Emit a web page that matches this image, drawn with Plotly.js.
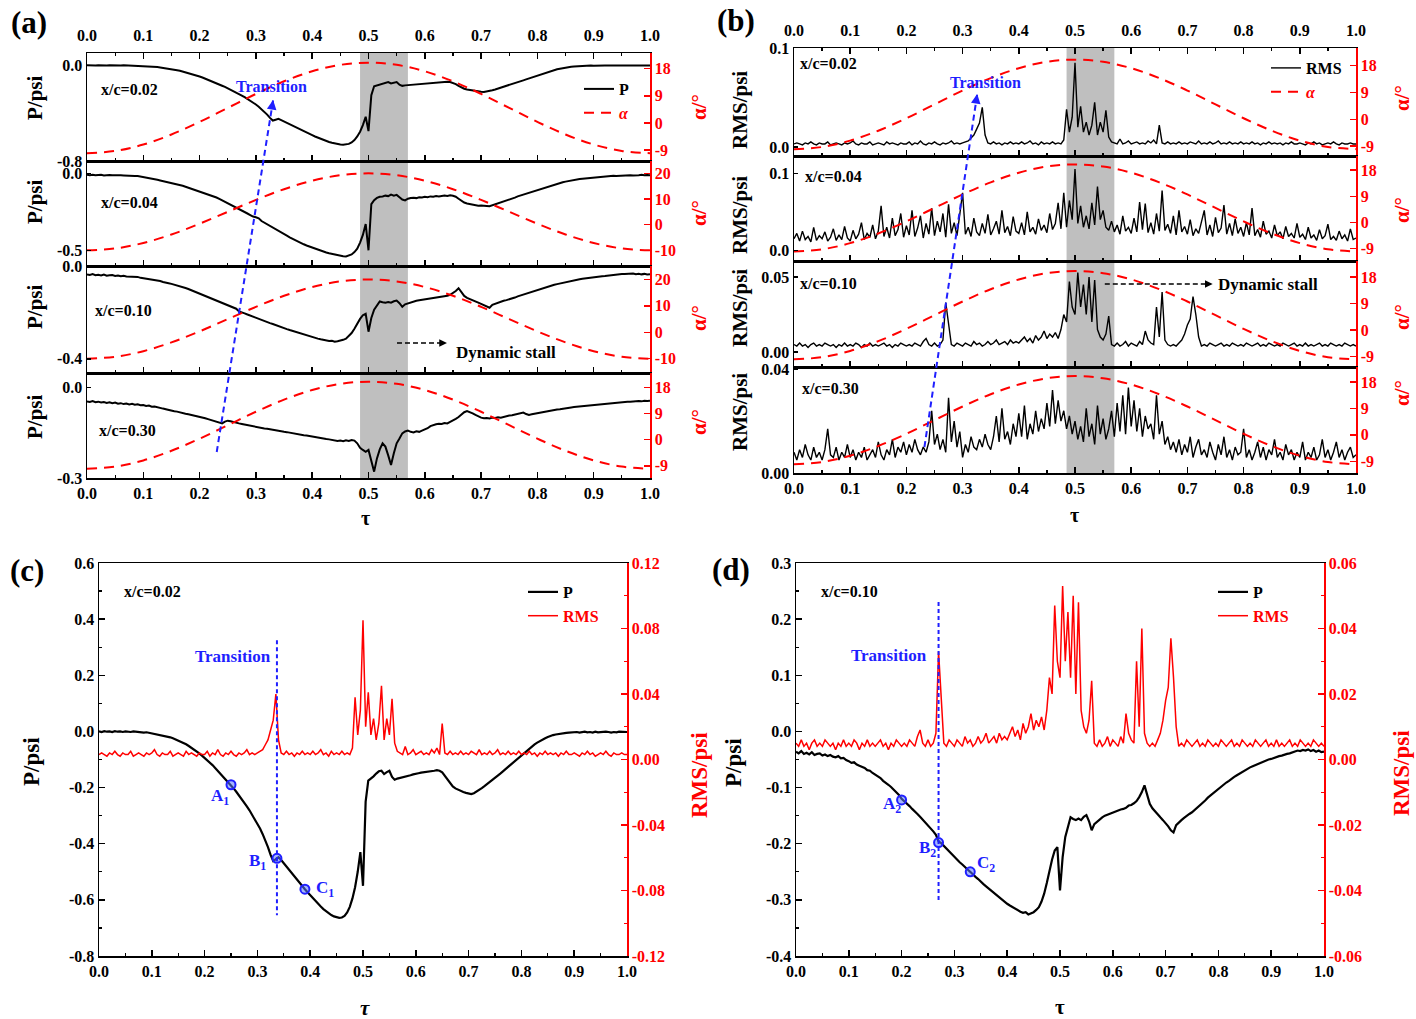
<!DOCTYPE html>
<html>
<head>
<meta charset="utf-8">
<script src="https://cdn.plot.ly/plotly-3.0.1.min.js"></script>
<style>html,body{margin:0;padding:0;background:#fff}</style>
</head>
<body>
<div id="chart" style="width:1416px;height:1019px"></div>
<script>
// sample times for every pressure / rms record (step 0.005)
const tau = Array.from({ length: 201 }, (_, i) => +(i * 0.005).toFixed(3));

// pressure, x/c = 0.02
const P_02 = [
  0.000, -0.002, 0.001, -0.001, 0.000, -0.002, 0.001, -0.001, 0.000, -0.002, 0.000, -0.001, -0.002, 0.000, -0.001, -0.003, -0.002, -0.004, -0.003, -0.005,
  -0.006, -0.007, -0.009, -0.011, -0.013, -0.015, -0.018, -0.021, -0.024, -0.028, -0.032, -0.036, -0.041, -0.046, -0.052, -0.058, -0.064, -0.071, -0.078, -0.086,
  -0.094, -0.102, -0.111, -0.120, -0.130, -0.140, -0.150, -0.160, -0.171, -0.181, -0.192, -0.203, -0.215, -0.227, -0.240, -0.253, -0.267, -0.281, -0.296, -0.312,
  -0.328, -0.346, -0.366, -0.388, -0.412, -0.440, -0.462, -0.455, -0.448, -0.458, -0.470, -0.480, -0.490, -0.502, -0.514, -0.526, -0.538, -0.550, -0.562, -0.573,
  -0.584, -0.595, -0.605, -0.615, -0.624, -0.633, -0.641, -0.648, -0.654, -0.659, -0.662, -0.664, -0.663, -0.657, -0.645, -0.625, -0.595, -0.555, -0.500, -0.430,
  -0.550, -0.250, -0.175, -0.168, -0.160, -0.150, -0.142, -0.140, -0.152, -0.145, -0.140, -0.162, -0.172, -0.168, -0.166, -0.163, -0.160, -0.158, -0.156, -0.153,
  -0.150, -0.149, -0.147, -0.146, -0.144, -0.143, -0.141, -0.140, -0.138, -0.140, -0.146, -0.158, -0.172, -0.186, -0.196, -0.203, -0.208, -0.212, -0.216, -0.219,
  -0.222, -0.223, -0.220, -0.215, -0.209, -0.202, -0.195, -0.188, -0.181, -0.174, -0.166, -0.158, -0.150, -0.142, -0.134, -0.126, -0.118, -0.110, -0.101, -0.093,
  -0.084, -0.076, -0.068, -0.060, -0.053, -0.046, -0.040, -0.034, -0.029, -0.024, -0.020, -0.016, -0.013, -0.011, -0.009, -0.007, -0.006, -0.005, -0.004, -0.003,
  -0.004, -0.002, -0.004, -0.003, -0.001, -0.003, -0.002, -0.004, -0.001, -0.003, -0.002, -0.003, -0.001, -0.002, -0.004, -0.002, -0.003, -0.001, -0.002, -0.003,
  -0.002
];

// pressure, x/c = 0.04
const P_04 = [
  -0.010, -0.012, -0.009, -0.013, -0.011, -0.010, -0.014, -0.012, -0.011, -0.013, -0.012, -0.015, -0.013, -0.014, -0.016, -0.014, -0.017, -0.018, -0.017, -0.020,
  -0.022, -0.025, -0.028, -0.032, -0.036, -0.042, -0.046, -0.050, -0.054, -0.059, -0.063, -0.068, -0.072, -0.077, -0.081, -0.087, -0.093, -0.099, -0.105, -0.111,
  -0.117, -0.123, -0.129, -0.135, -0.141, -0.149, -0.157, -0.166, -0.175, -0.184, -0.193, -0.202, -0.211, -0.221, -0.231, -0.241, -0.251, -0.261, -0.271, -0.281,
  -0.285, -0.292, -0.310, -0.320, -0.331, -0.342, -0.352, -0.363, -0.373, -0.384, -0.395, -0.405, -0.416, -0.426, -0.435, -0.444, -0.452, -0.461, -0.469, -0.476,
  -0.484, -0.491, -0.497, -0.503, -0.509, -0.514, -0.519, -0.524, -0.529, -0.533, -0.536, -0.539, -0.540, -0.535, -0.527, -0.512, -0.490, -0.450, -0.400, -0.330,
  -0.500, -0.200, -0.175, -0.160, -0.152, -0.150, -0.145, -0.148, -0.138, -0.145, -0.140, -0.155, -0.170, -0.176, -0.165, -0.160, -0.158, -0.161, -0.155, -0.157,
  -0.153, -0.155, -0.150, -0.152, -0.148, -0.150, -0.146, -0.144, -0.147, -0.142, -0.146, -0.152, -0.165, -0.180, -0.190, -0.196, -0.200, -0.205, -0.207, -0.210,
  -0.209, -0.213, -0.212, -0.214, -0.208, -0.203, -0.197, -0.190, -0.184, -0.176, -0.170, -0.164, -0.158, -0.150, -0.144, -0.138, -0.132, -0.126, -0.120, -0.114,
  -0.108, -0.101, -0.096, -0.090, -0.084, -0.078, -0.072, -0.067, -0.062, -0.058, -0.054, -0.050, -0.047, -0.043, -0.040, -0.037, -0.035, -0.033, -0.030, -0.028,
  -0.026, -0.024, -0.023, -0.021, -0.020, -0.019, -0.018, -0.016, -0.017, -0.015, -0.014, -0.016, -0.013, -0.012, -0.014, -0.011, -0.012, -0.010, -0.013, -0.011,
  -0.012
];

// pressure, x/c = 0.10
const P_10 = [
  -0.036, -0.039, -0.035, -0.040, -0.038, -0.041, -0.037, -0.042, -0.040, -0.039, -0.043, -0.041, -0.044, -0.042, -0.045, -0.046, -0.044, -0.048, -0.047, -0.051,
  -0.053, -0.056, -0.055, -0.059, -0.061, -0.063, -0.065, -0.069, -0.070, -0.074, -0.077, -0.080, -0.083, -0.088, -0.091, -0.095, -0.099, -0.104, -0.108, -0.113,
  -0.120, -0.124, -0.128, -0.133, -0.138, -0.142, -0.147, -0.152, -0.157, -0.162, -0.168, -0.173, -0.178, -0.184, -0.196, -0.199, -0.204, -0.209, -0.214, -0.219,
  -0.224, -0.228, -0.233, -0.237, -0.242, -0.246, -0.250, -0.255, -0.259, -0.263, -0.268, -0.272, -0.276, -0.280, -0.284, -0.288, -0.292, -0.296, -0.300, -0.303,
  -0.307, -0.310, -0.313, -0.316, -0.319, -0.321, -0.323, -0.322, -0.326, -0.324, -0.322, -0.318, -0.313, -0.303, -0.289, -0.270, -0.248, -0.228, -0.212, -0.206,
  -0.283, -0.224, -0.188, -0.170, -0.153, -0.156, -0.158, -0.155, -0.158, -0.152, -0.149, -0.160, -0.176, -0.165, -0.161, -0.156, -0.153, -0.150, -0.148, -0.146,
  -0.144, -0.143, -0.141, -0.139, -0.138, -0.136, -0.132, -0.131, -0.128, -0.124, -0.117, -0.108, -0.096, -0.112, -0.129, -0.137, -0.143, -0.147, -0.153, -0.158,
  -0.163, -0.169, -0.176, -0.180, -0.167, -0.162, -0.158, -0.154, -0.150, -0.147, -0.144, -0.140, -0.136, -0.131, -0.127, -0.123, -0.118, -0.114, -0.110, -0.106,
  -0.102, -0.098, -0.095, -0.091, -0.088, -0.084, -0.081, -0.078, -0.075, -0.072, -0.069, -0.067, -0.064, -0.062, -0.060, -0.057, -0.055, -0.053, -0.051, -0.050,
  -0.049, -0.047, -0.046, -0.044, -0.043, -0.041, -0.040, -0.039, -0.037, -0.036, -0.034, -0.035, -0.033, -0.034, -0.032, -0.035, -0.033, -0.036, -0.034, -0.037,
  -0.036
];

// pressure, x/c = 0.30
const P_30 = [
  -0.046, -0.048, -0.045, -0.049, -0.047, -0.050, -0.048, -0.051, -0.049, -0.052, -0.050, -0.054, -0.052, -0.055, -0.053, -0.056, -0.054, -0.057, -0.056, -0.059,
  -0.058, -0.061, -0.060, -0.064, -0.063, -0.066, -0.068, -0.070, -0.072, -0.075, -0.076, -0.079, -0.080, -0.083, -0.085, -0.087, -0.089, -0.091, -0.093, -0.095,
  -0.096, -0.099, -0.102, -0.105, -0.108, -0.111, -0.114, -0.117, -0.119, -0.113, -0.110, -0.112, -0.115, -0.117, -0.119, -0.121, -0.123, -0.125, -0.128, -0.130,
  -0.131, -0.133, -0.134, -0.136, -0.137, -0.139, -0.140, -0.142, -0.143, -0.145, -0.147, -0.148, -0.150, -0.151, -0.153, -0.155, -0.156, -0.158, -0.159, -0.161,
  -0.163, -0.164, -0.166, -0.168, -0.169, -0.171, -0.172, -0.174, -0.176, -0.177, -0.176, -0.178, -0.175, -0.177, -0.174, -0.176, -0.185, -0.200, -0.207, -0.213,
  -0.207, -0.240, -0.279, -0.235, -0.205, -0.185, -0.196, -0.225, -0.257, -0.218, -0.185, -0.169, -0.152, -0.146, -0.143, -0.147, -0.149, -0.145, -0.147, -0.143,
  -0.140, -0.135, -0.128, -0.124, -0.122, -0.120, -0.121, -0.118, -0.119, -0.114, -0.110, -0.104, -0.098, -0.090, -0.082, -0.078, -0.081, -0.086, -0.091, -0.096,
  -0.100, -0.102, -0.101, -0.103, -0.100, -0.101, -0.099, -0.100, -0.097, -0.096, -0.093, -0.092, -0.090, -0.088, -0.085, -0.083, -0.088, -0.091, -0.089, -0.087,
  -0.085, -0.083, -0.082, -0.080, -0.078, -0.076, -0.075, -0.073, -0.072, -0.070, -0.069, -0.068, -0.066, -0.065, -0.064, -0.062, -0.061, -0.060, -0.059, -0.058,
  -0.057, -0.056, -0.055, -0.054, -0.053, -0.052, -0.052, -0.051, -0.050, -0.049, -0.049, -0.048, -0.047, -0.047, -0.046, -0.046, -0.045, -0.046, -0.044, -0.045,
  -0.044
];

// pressure fluctuation rms, x/c = 0.02
const RMS_02 = [
  0.003, 0.004, 0.003, 0.002, 0.004, 0.003, 0.005, 0.003, 0.002, 0.004, 0.003, 0.003, 0.005, 0.002, 0.003, 0.004, 0.003, 0.002, 0.004, 0.003,
  0.004, 0.006, 0.003, 0.002, 0.004, 0.003, 0.003, 0.005, 0.002, 0.003, 0.004, 0.003, 0.002, 0.005, 0.003, 0.004, 0.003, 0.002, 0.004, 0.003,
  0.003, 0.005, 0.002, 0.004, 0.003, 0.006, 0.003, 0.002, 0.004, 0.003, 0.005, 0.003, 0.002, 0.004, 0.003, 0.004, 0.006, 0.003, 0.004, 0.003,
  0.004, 0.005, 0.006, 0.009, 0.012, 0.018, 0.024, 0.040, 0.012, 0.004, 0.003, 0.005, 0.003, 0.004, 0.002, 0.004, 0.003, 0.005, 0.003, 0.004,
  0.003, 0.005, 0.003, 0.004, 0.006, 0.003, 0.004, 0.002, 0.005, 0.003, 0.004, 0.003, 0.005, 0.003, 0.004, 0.003, 0.007, 0.038, 0.015, 0.030,
  0.085, 0.020, 0.041, 0.015, 0.025, 0.012, 0.022, 0.045, 0.012, 0.025, 0.015, 0.037, 0.010, 0.005, 0.004, 0.003, 0.008, 0.003, 0.004, 0.006,
  0.003, 0.004, 0.005, 0.003, 0.004, 0.003, 0.006, 0.004, 0.007, 0.003, 0.022, 0.004, 0.003, 0.005, 0.003, 0.004, 0.003, 0.005, 0.003, 0.004,
  0.003, 0.005, 0.004, 0.003, 0.006, 0.003, 0.004, 0.003, 0.005, 0.003, 0.004, 0.006, 0.003, 0.004, 0.003, 0.005, 0.003, 0.004, 0.003, 0.005,
  0.003, 0.004, 0.003, 0.005, 0.003, 0.004, 0.002, 0.004, 0.003, 0.005, 0.003, 0.004, 0.003, 0.004, 0.002, 0.004, 0.003, 0.005, 0.003, 0.003,
  0.004, 0.003, 0.002, 0.004, 0.003, 0.005, 0.003, 0.004, 0.002, 0.003, 0.004, 0.003, 0.005, 0.003, 0.002, 0.004, 0.003, 0.003, 0.004, 0.003,
  0.003
];

// pressure fluctuation rms, x/c = 0.04
const RMS_04 = [
  0.015, 0.022, 0.012, 0.025, 0.014, 0.018, 0.011, 0.030, 0.013, 0.019, 0.015, 0.024, 0.012, 0.017, 0.028, 0.013, 0.020, 0.014, 0.031, 0.016,
  0.012, 0.026, 0.015, 0.021, 0.036, 0.014, 0.022, 0.017, 0.033, 0.015, 0.025, 0.058, 0.018, 0.030, 0.016, 0.042, 0.019, 0.027, 0.048, 0.017,
  0.032, 0.020, 0.052, 0.018, 0.029, 0.045, 0.016, 0.035, 0.021, 0.055, 0.019, 0.038, 0.024, 0.048, 0.017, 0.060, 0.022, 0.036, 0.019, 0.050,
  0.075, 0.021, 0.030, 0.018, 0.042, 0.024, 0.019, 0.035, 0.022, 0.047, 0.020, 0.028, 0.038, 0.021, 0.052, 0.023, 0.031, 0.019, 0.044, 0.025,
  0.022, 0.036, 0.020, 0.050, 0.024, 0.030, 0.021, 0.041, 0.026, 0.033, 0.023, 0.048, 0.027, 0.035, 0.062, 0.028, 0.075, 0.030, 0.065, 0.040,
  0.106, 0.035, 0.058, 0.030, 0.045, 0.028, 0.062, 0.033, 0.083, 0.040, 0.052, 0.030, 0.026, 0.038, 0.024, 0.033, 0.021, 0.045, 0.025, 0.030,
  0.022, 0.042, 0.024, 0.063, 0.027, 0.061, 0.023, 0.036, 0.021, 0.048, 0.025, 0.078, 0.026, 0.034, 0.022, 0.045, 0.020, 0.052, 0.024, 0.031,
  0.021, 0.040, 0.019, 0.028, 0.022, 0.037, 0.052, 0.020, 0.033, 0.018, 0.043, 0.023, 0.029, 0.059, 0.021, 0.035, 0.019, 0.041, 0.022, 0.030,
  0.018, 0.036, 0.020, 0.055, 0.019, 0.027, 0.017, 0.038, 0.021, 0.025, 0.016, 0.033, 0.019, 0.024, 0.015, 0.031, 0.018, 0.022, 0.016, 0.035,
  0.017, 0.021, 0.014, 0.030, 0.016, 0.020, 0.013, 0.027, 0.015, 0.019, 0.034, 0.014, 0.018, 0.013, 0.025, 0.015, 0.020, 0.012, 0.028, 0.014,
  0.016
];

// pressure fluctuation rms, x/c = 0.10
const RMS_10 = [
  0.005, 0.004, 0.006, 0.004, 0.005, 0.003, 0.005, 0.006, 0.004, 0.005, 0.004, 0.006, 0.005, 0.004, 0.005, 0.003, 0.005, 0.004, 0.006, 0.004,
  0.005, 0.004, 0.006, 0.005, 0.003, 0.005, 0.004, 0.006, 0.004, 0.005, 0.004, 0.005, 0.006, 0.004, 0.005, 0.003, 0.005, 0.004, 0.006, 0.005,
  0.004, 0.005, 0.004, 0.006, 0.005, 0.004, 0.007, 0.009, 0.005, 0.004, 0.006, 0.004, 0.005, 0.008, 0.033, 0.020, 0.005, 0.004, 0.006, 0.005,
  0.004, 0.006, 0.005, 0.004, 0.007, 0.005, 0.006, 0.004, 0.005, 0.007, 0.005, 0.006, 0.008, 0.005, 0.006, 0.007, 0.005, 0.008, 0.006, 0.007,
  0.006, 0.008, 0.010, 0.007, 0.009, 0.006, 0.011, 0.008, 0.010, 0.014, 0.009, 0.012, 0.010, 0.013, 0.009, 0.015, 0.025, 0.020, 0.047, 0.030,
  0.025, 0.053, 0.030, 0.045, 0.025, 0.050, 0.020, 0.048, 0.015, 0.010, 0.008, 0.012, 0.024, 0.005, 0.004, 0.006, 0.004, 0.005, 0.007, 0.004,
  0.006, 0.005, 0.004, 0.007, 0.005, 0.014, 0.008, 0.006, 0.005, 0.030, 0.010, 0.040, 0.008, 0.005, 0.004, 0.005, 0.004, 0.006, 0.008, 0.012,
  0.018, 0.022, 0.037, 0.025, 0.010, 0.004, 0.005, 0.004, 0.006, 0.005, 0.004, 0.005, 0.006, 0.004, 0.005, 0.004, 0.006, 0.005, 0.004, 0.005,
  0.004, 0.006, 0.005, 0.004, 0.005, 0.006, 0.004, 0.005, 0.004, 0.006, 0.005, 0.004, 0.005, 0.004, 0.006, 0.005, 0.004, 0.005, 0.006, 0.004,
  0.005, 0.004, 0.006, 0.004, 0.005, 0.004, 0.005, 0.006, 0.004, 0.005, 0.004, 0.006, 0.005, 0.004, 0.005, 0.004, 0.006, 0.005, 0.004, 0.005,
  0.004
];

// pressure fluctuation rms, x/c = 0.30
const RMS_30 = [
  0.008, 0.005, 0.009, 0.006, 0.011, 0.007, 0.005, 0.010, 0.006, 0.008, 0.005, 0.009, 0.017, 0.007, 0.006, 0.010, 0.005, 0.008, 0.006, 0.011,
  0.006, 0.009, 0.005, 0.008, 0.006, 0.010, 0.005, 0.007, 0.009, 0.006, 0.012, 0.007, 0.005, 0.009, 0.007, 0.013, 0.006, 0.010, 0.008, 0.012,
  0.007, 0.011, 0.008, 0.013, 0.009, 0.007, 0.010, 0.008, 0.012, 0.024, 0.011, 0.015, 0.009, 0.013, 0.008, 0.029, 0.012, 0.020, 0.010, 0.016,
  0.006, 0.011, 0.008, 0.014, 0.010, 0.009, 0.013, 0.010, 0.015, 0.011, 0.009, 0.014, 0.022, 0.012, 0.025, 0.013, 0.016, 0.011, 0.019, 0.014,
  0.023, 0.014, 0.026, 0.013, 0.019, 0.015, 0.024, 0.016, 0.021, 0.017, 0.027, 0.018, 0.032, 0.019, 0.028, 0.020, 0.024, 0.017, 0.022, 0.015,
  0.020, 0.013, 0.018, 0.012, 0.025, 0.014, 0.019, 0.011, 0.026, 0.015, 0.021, 0.013, 0.017, 0.024, 0.014, 0.027, 0.016, 0.030, 0.015, 0.033,
  0.018, 0.028, 0.016, 0.025, 0.014, 0.022, 0.017, 0.019, 0.013, 0.030, 0.015, 0.020, 0.011, 0.014, 0.009, 0.012, 0.008, 0.013, 0.007, 0.011,
  0.008, 0.014, 0.006, 0.010, 0.013, 0.007, 0.009, 0.006, 0.012, 0.008, 0.005, 0.011, 0.007, 0.014, 0.006, 0.009, 0.005, 0.010, 0.007, 0.008,
  0.017, 0.006, 0.009, 0.005, 0.008, 0.012, 0.006, 0.010, 0.005, 0.009, 0.007, 0.013, 0.006, 0.008, 0.005, 0.011, 0.007, 0.009, 0.005, 0.008,
  0.006, 0.012, 0.005, 0.008, 0.006, 0.010, 0.005, 0.007, 0.013, 0.006, 0.009, 0.005, 0.008, 0.012, 0.006, 0.009, 0.005, 0.008, 0.010, 0.006,
  0.007
];

// angle of attack over one cycle
const alphaTau = [0, 0.05, 0.1, 0.15, 0.2, 0.25, 0.3, 0.35, 0.4, 0.45, 0.5, 0.55, 0.6, 0.65, 0.7, 0.75, 0.8, 0.85, 0.9, 0.95, 1.0];
const alphaDeg = [-10, -9.27, -7.14, -3.82, 0.36, 5, 9.64, 13.82, 17.14, 19.27, 20, 19.27, 17.14, 13.82, 9.64, 5, 0.36, -3.82, -7.14, -9.27, -10];

// marked states A, B, C in (c) and (d)
const markC_tau = [0.25, 0.337, 0.39];
const markC_p = [-0.19, -0.452, -0.562];
const markD_tau = [0.2, 0.27, 0.33];
const markD_p = [-0.122, -0.198, -0.25];

// shaded stall window and transition instants
const stallWindow = [0.485, 0.57];
const transitionC = 0.337;
const transitionD = 0.27;

// tick labels
const tauTicks = [0, 0.1, 0.2, 0.3, 0.4, 0.5, 0.6, 0.7, 0.8, 0.9, 1.0];
const alphaTicks18 = [-9, 0, 9, 18];
const alphaTicks20 = [-10, 0, 10, 20];
const cPTicks = [-0.8, -0.6, -0.4, -0.2, 0, 0.2, 0.4, 0.6];
const cRmsTicks = [-0.12, -0.08, -0.04, 0, 0.04, 0.08, 0.12];
const dPTicks = [-0.4, -0.3, -0.2, -0.1, 0, 0.1, 0.2, 0.3];
const dRmsTicks = [-0.06, -0.04, -0.02, 0, 0.02, 0.04, 0.06];

const W = 1416, H = 1019;
const px = v => v / W;
const py = v => 1 - v / H;
const FONT = 'Liberation Serif, "Times New Roman", serif';
const RED = '#ff0000';
const BLUE = '#1f1fff';
const sfx = n => (n === 1 ? '' : String(n));

const data = [];
const annotations = [];
const shapes = [];
const layout = {
  width: W, height: H, autosize: false,
  margin: { l: 0, r: 0, t: 0, b: 0 },
  paper_bgcolor: '#fff', plot_bgcolor: 'rgba(0,0,0,0)',
  font: { family: FONT, size: 16, color: '#000', weight: 'bold' },
  showlegend: true,
  annotations, shapes
};

function tickFont(color) {
  return { family: FONT, size: 16, color, weight: 'bold' };
}

function addXAxis(n, xs, anchorY, extra) {
  layout['xaxis' + sfx(n)] = Object.assign({
    domain: [px(xs[0]), px(xs[1])],
    anchor: 'y' + sfx(anchorY),
    range: [0, 1],
    tickmode: 'array', tickvals: tauTicks, ticktext: tauTicks.map(v => v.toFixed(1)),
    ticks: 'inside', ticklen: 6, tickwidth: 1.5, tickcolor: '#000',
    minor: { ticks: 'inside', ticklen: 3, tickwidth: 1.2, tickcolor: '#000', tickmode: 'linear', tick0: 0, dtick: 0.05, showgrid: false },
    showline: true, linecolor: '#000', linewidth: 1.5, mirror: true,
    showgrid: false, zeroline: false, fixedrange: true,
    tickfont: tickFont('#000')
  }, extra);
}

function addYAxis(n, ys, anchorX, range, vals, digits, color, extra) {
  layout['yaxis' + sfx(n)] = Object.assign({
    domain: [py(ys[1]), py(ys[0])],
    anchor: 'x' + sfx(anchorX),
    range,
    tickmode: 'array', tickvals: vals, ticktext: vals.map(v => v.toFixed(digits)),
    ticks: 'inside', ticklen: 6, tickwidth: 1.5, tickcolor: color,
    showline: true, linecolor: color, linewidth: 1.5,
    showgrid: false, zeroline: false, fixedrange: true,
    tickfont: tickFont(color)
  }, extra);
}

function text(str, x, y, opts) {
  annotations.push(Object.assign({
    text: str, x: px(x), y: py(y), xref: 'paper', yref: 'paper',
    showarrow: false, xanchor: 'center', yanchor: 'middle',
    font: { family: FONT, size: 16, color: '#000', weight: 'bold' }
  }, opts));
}

function vtitle(str, x, y, color, size) {
  text(str, x, y, { textangle: -90, font: { family: FONT, size: size || 21, color, weight: 'bold' } });
}

function legendAt(x, y) {
  return {
    x: px(x), y: py(y), xanchor: 'left', yanchor: 'top',
    bgcolor: 'rgba(0,0,0,0)', borderwidth: 0,
    font: { family: FONT, size: 16, color: '#000', weight: 'bold' },
    traceorder: 'grouped', tracegroupgap: 0, itemwidth: 30
  };
}

const alphaLine = { color: RED, width: 2, dash: '10px,7px', shape: 'spline', smoothing: 1 };
const alphaName = '<span style="color:red;font-style:italic">α</span>';

// ---------- (a) pressure strips ----------
const aX = [87, 650];
const aRows = [
  { y: [53, 161], p: P_02, pr: [-0.8, 0.1025], pt: [-0.8, 0], ar: [-12.6, 23.2], at: alphaTicks18, label: 'x/c=0.02', lab: [99, 89], pt1: 98, at1: 107 },
  { y: [161, 266], p: P_04, pr: [-0.602, 0.08], pt: [-0.5, 0], ar: [-16.1, 24.8], at: alphaTicks20, label: 'x/c=0.04', lab: [99, 203], pt1: 202, at1: 213 },
  { y: [266, 373], p: P_10, pr: [-0.461, 0.0], pt: [-0.4, 0], ar: [-15.4, 25.1], at: alphaTicks20, label: 'x/c=0.10', lab: [93, 310], pt1: 307, at1: 318 },
  { y: [373, 478], p: P_30, pr: [-0.3, 0.048], pt: [-0.3, 0], ar: [-13.2, 23.0], at: alphaTicks18, label: 'x/c=0.30', lab: [97, 430], pt1: 417, at1: 422 }
];

aRows.forEach((r, i) => {
  const xn = i + 1, yl = 2 * i + 1, yr = 2 * i + 2;
  const xExtra = i === 0 ? { side: 'top', mirror: 'ticks', ticklabelstandoff: 4 } : (i === 3 ? {} : { showticklabels: false });
  addXAxis(xn, aX, yl, xExtra);
  addYAxis(yl, r.y, xn, r.pr, r.pt, 1, '#000', { ticklen: 4 });
  addYAxis(yr, r.y, xn, r.ar, r.at, 0, RED, { side: 'right', overlaying: 'y' + sfx(yl) });
  data.push({
    x: tau, y: r.p, type: 'scatter', mode: 'lines', name: 'P',
    xaxis: 'x' + sfx(xn), yaxis: 'y' + sfx(yl),
    line: { color: '#000', width: 2 },
    showlegend: i === 0, legend: 'legend', legendgroup: 'aP', hoverinfo: 'skip'
  });
  data.push({
    x: alphaTau, y: alphaDeg, type: 'scatter', mode: 'lines', name: alphaName,
    xaxis: 'x' + sfx(xn), yaxis: 'y' + sfx(yr),
    line: alphaLine, showlegend: i === 0, legend: 'legend', legendgroup: 'aA', hoverinfo: 'skip'
  });
  text(r.label, r.lab[0], r.lab[1], { xanchor: 'left' });
  vtitle('P/psi', 35, r.pt1, '#000');
  vtitle('α/°', 699, r.at1, RED);
});

// ---------- (b) rms strips ----------
const bX = [794, 1356];
const bRows = [
  { y: [48, 156], r: RMS_02, rr: [-0.0092, 0.1], rt: [0, 0.1], d: 1, ar: [-12.3, 23.9], label: 'x/c=0.02', lab: [798, 63], t1: 110, at1: 98 },
  { y: [156, 261], r: RMS_04, rr: [-0.014, 0.123], rt: [0, 0.1], d: 1, ar: [-13.3, 22.9], label: 'x/c=0.04', lab: [803, 177], t1: 215, at1: 210 },
  { y: [261, 367], r: RMS_10, rr: [-0.01, 0.0607], rt: [0, 0.05], d: 2, ar: [-12.6, 23.4], label: 'x/c=0.10', lab: [798, 283], t1: 308, at1: 317 },
  { y: [367, 473], r: RMS_30, rr: [0, 0.0409], rt: [0, 0.04], d: 2, ar: [-13.0, 23.1], label: 'x/c=0.30', lab: [800, 388], t1: 412, at1: 393 }
];

bRows.forEach((r, i) => {
  const xn = i + 5, yl = 2 * (i + 4) + 1, yr = 2 * (i + 4) + 2;
  const xExtra = i === 0 ? { side: 'top', mirror: 'ticks', ticklabelstandoff: 4 } : (i === 3 ? {} : { showticklabels: false });
  addXAxis(xn, bX, yl, xExtra);
  addYAxis(yl, r.y, xn, r.rr, r.rt, r.d, '#000', { ticklen: 4 });
  addYAxis(yr, r.y, xn, r.ar, alphaTicks18, 0, RED, { side: 'right', overlaying: 'y' + sfx(yl) });
  data.push({
    x: tau, y: r.r, type: 'scatter', mode: 'lines', name: 'RMS',
    xaxis: 'x' + sfx(xn), yaxis: 'y' + sfx(yl),
    line: { color: '#000', width: 1.4 },
    showlegend: i === 0, legend: 'legend2', legendgroup: 'bR', hoverinfo: 'skip'
  });
  data.push({
    x: alphaTau, y: alphaDeg, type: 'scatter', mode: 'lines', name: alphaName,
    xaxis: 'x' + sfx(xn), yaxis: 'y' + sfx(yr),
    line: alphaLine, showlegend: i === 0, legend: 'legend2', legendgroup: 'bA', hoverinfo: 'skip'
  });
  text(r.label, r.lab[0], r.lab[1], { xanchor: 'left' });
  vtitle('RMS/psi', 740, r.t1, '#000');
  vtitle('α/°', 1402, r.at1, RED);
});

// shaded stall window across the strips
shapes.push({ type: 'rect', xref: 'x', yref: 'paper', x0: stallWindow[0], x1: stallWindow[1], y0: py(478), y1: py(53), fillcolor: '#bfbfbf', line: { width: 0 }, layer: 'below' });
shapes.push({ type: 'rect', xref: 'x5', yref: 'paper', x0: stallWindow[0], x1: stallWindow[1], y0: py(473), y1: py(48), fillcolor: '#bfbfbf', line: { width: 0 }, layer: 'below' });

// transition guide lines in (a) and (b)
shapes.push({ type: 'line', xref: 'x', yref: 'paper', x0: 0.2304, y0: py(452), x1: 0.3306, y1: py(100), line: { color: BLUE, width: 2, dash: '6px,4px' } });
shapes.push({ type: 'line', xref: 'x5', yref: 'paper', x0: 0.2321, y0: py(447), x1: 0.326, y1: py(94), line: { color: BLUE, width: 2, dash: '6px,4px' } });
annotations.push({ x: 0.3306, y: py(100), xref: 'x', yref: 'paper', text: ' ', showarrow: true, ax: -2, ay: 13, arrowhead: 2, arrowsize: 1.2, arrowwidth: 1.6, arrowcolor: BLUE });
annotations.push({ x: 0.326, y: py(94), xref: 'x5', yref: 'paper', text: ' ', showarrow: true, ax: -2, ay: 13, arrowhead: 2, arrowsize: 1.2, arrowwidth: 1.6, arrowcolor: BLUE });
text('Transition', 271, 86, { font: { family: FONT, size: 16, color: BLUE, weight: 'bold' } });
text('Transition', 985, 83, { font: { family: FONT, size: 16, color: BLUE, weight: 'bold' } });

// dynamic stall pointers
shapes.push({ type: 'line', xref: 'x', yref: 'paper', x0: 0.5506, x1: 0.632, y0: py(343), y1: py(343), line: { color: '#000', width: 1.5, dash: '5px,3px' } });
annotations.push({ x: 0.6394, y: py(343), xref: 'x', yref: 'paper', text: ' ', showarrow: true, ax: -9, ay: 0, arrowhead: 2, arrowsize: 1.1, arrowwidth: 1.4, arrowcolor: '#000' });
text('Dynamic stall', 454, 352, { xanchor: 'left', font: { family: FONT, size: 17, color: '#000', weight: 'bold' } });
shapes.push({ type: 'line', xref: 'x5', yref: 'paper', x0: 0.553, x1: 0.738, y0: py(284), y1: py(284), line: { color: '#000', width: 1.5, dash: '5px,3px' } });
annotations.push({ x: 0.745, y: py(284), xref: 'x5', yref: 'paper', text: ' ', showarrow: true, ax: -9, ay: 0, arrowhead: 2, arrowsize: 1.1, arrowwidth: 1.4, arrowcolor: '#000' });
text('Dynamic stall', 1216, 284, { xanchor: 'left', font: { family: FONT, size: 17, color: '#000', weight: 'bold' } });

text('τ', 366, 518, { font: { family: FONT, size: 20, color: '#000', weight: 'bold' } });
text('τ', 1074, 515, { font: { family: FONT, size: 20, color: '#000', weight: 'bold' } });

// ---------- (c) and (d) ----------
const bottomPanels = [
  { xn: 9, yl: 17, yr: 18, xs: [99, 627], p: P_02, r: RMS_02, pr: [-0.8, 0.6], pt: cPTicks, pm: 0.1, rr: [-0.12, 0.12], rt: cRmsTicks, rm: 0.02,
    mt: markC_tau, mp: markC_p, names: ['A<sub>1</sub>', 'B<sub>1</sub>', 'C<sub>1</sub>'], shifts: [[-11, -12], [-19, -4], [20, 0]],
    tr: transitionC, trY: [0.325, -0.655], trText: 0.3295, trTextY: 0.266, xc: 'x/c=0.02', label: [122, 591], leg: 'legend3',
    ptitle: [31, 762], rtitle: [699, 775], tauLab: [365, 1008], tauItalic: true },
  { xn: 10, yl: 19, yr: 20, xs: [796, 1324], p: P_10, r: RMS_10, pr: [-0.4, 0.3], pt: dPTicks, pm: 0.05, rr: [-0.06, 0.06], rt: dRmsTicks, rm: 0.01,
    mt: markD_tau, mp: markD_p, names: ['A<sub>2</sub>', 'B<sub>2</sub>', 'C<sub>2</sub>'], shifts: [[-10, -5], [-11, -6], [16, 8]],
    tr: transitionD, trY: [0.2306, -0.304], trText: 0.252, trTextY: 0.136, xc: 'x/c=0.10', label: [819, 591], leg: 'legend4',
    ptitle: [733, 763], rtitle: [1401, 773], tauLab: [1060, 1007], tauItalic: false }
];

bottomPanels.forEach(b => {
  addXAxis(b.xn, b.xs, b.yl, {});
  addYAxis(b.yl, [563, 956], b.xn, b.pr, b.pt, 1, '#000', {
    minor: { ticks: 'inside', ticklen: 3, tickwidth: 1.2, tickcolor: '#000', tickmode: 'linear', tick0: 0, dtick: b.pm, showgrid: false }
  });
  addYAxis(b.yr, [563, 956], b.xn, b.rr, b.rt, 2, RED, {
    side: 'right', overlaying: 'y' + sfx(b.yl),
    minor: { ticks: 'inside', ticklen: 3, tickwidth: 1.2, tickcolor: RED, tickmode: 'linear', tick0: 0, dtick: b.rm, showgrid: false }
  });
  data.push({
    x: tau, y: b.p, type: 'scatter', mode: 'lines', name: 'P',
    xaxis: 'x' + b.xn, yaxis: 'y' + b.yl, line: { color: '#000', width: 2.2 },
    legend: b.leg, legendgroup: b.leg + 'P', hoverinfo: 'skip'
  });
  data.push({
    x: tau, y: b.r, type: 'scatter', mode: 'lines', name: '<span style="color:red">RMS</span>',
    xaxis: 'x' + b.xn, yaxis: 'y' + b.yr, line: { color: RED, width: 1.5 },
    legend: b.leg, legendgroup: b.leg + 'R', hoverinfo: 'skip'
  });
  data.push({
    x: b.mt, y: b.mp, type: 'scatter', mode: 'markers', showlegend: false,
    xaxis: 'x' + b.xn, yaxis: 'y' + b.yl,
    marker: { size: 9, color: 'rgba(90,120,255,0.55)', line: { color: BLUE, width: 2 } }, hoverinfo: 'skip'
  });
  b.mt.forEach((t, k) => {
    annotations.push({
      x: t, y: b.mp[k], xref: 'x' + b.xn, yref: 'y' + b.yl, text: b.names[k], showarrow: false,
      xshift: b.shifts[k][0], yshift: b.shifts[k][1],
      font: { family: FONT, size: 17, color: BLUE, weight: 'bold' }
    });
  });
  shapes.push({ type: 'line', xref: 'x' + b.xn, yref: 'y' + b.yl, x0: b.tr, x1: b.tr, y0: b.trY[0], y1: b.trY[1], line: { color: BLUE, width: 2, dash: '4px,3px' } });
  annotations.push({
    x: b.trText, y: b.trTextY, xref: 'x' + b.xn, yref: 'y' + b.yl, text: 'Transition', showarrow: false,
    xanchor: 'right', font: { family: FONT, size: 17, color: BLUE, weight: 'bold' }
  });
  text(b.xc, b.label[0], b.label[1], { xanchor: 'left' });
  vtitle('P/psi', b.ptitle[0], b.ptitle[1], '#000', 23);
  vtitle('RMS/psi', b.rtitle[0], b.rtitle[1], RED, 23);
  text(b.tauItalic ? '<i>τ</i>' : 'τ', b.tauLab[0], b.tauLab[1], { font: { family: FONT, size: 21, color: '#000', weight: 'bold' } });
});

// legends
layout.legend = legendAt(579, 72);
layout.legend2 = legendAt(1266, 51);
layout.legend3 = legendAt(523, 575);
layout.legend4 = legendAt(1213, 575);

// panel letters
text('(a)', 29, 22, { font: { family: FONT, size: 31, color: '#000', weight: 'bold' } });
text('(b)', 736, 20, { font: { family: FONT, size: 31, color: '#000', weight: 'bold' } });
text('(c)', 27, 570, { font: { family: FONT, size: 31, color: '#000', weight: 'bold' } });
text('(d)', 731, 569, { font: { family: FONT, size: 31, color: '#000', weight: 'bold' } });

Plotly.newPlot('chart', data, layout, { staticPlot: true });
</script>
</body>
</html>
